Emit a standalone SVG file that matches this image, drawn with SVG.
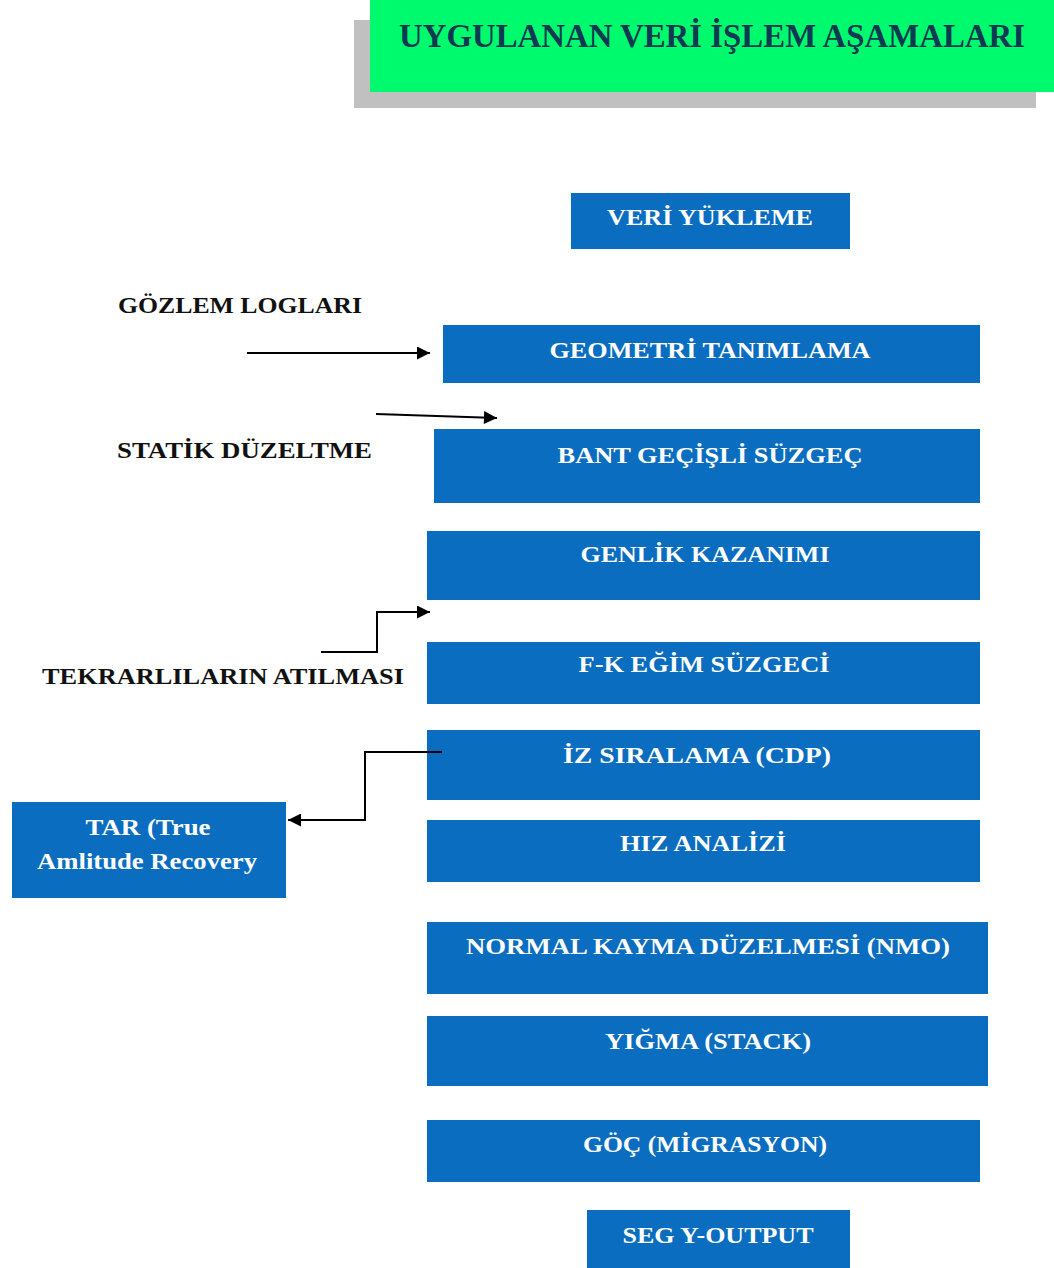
<svg xmlns="http://www.w3.org/2000/svg" width="1054" height="1268" viewBox="0 0 1054 1268">
<defs>
<style>
.box{fill:#0a6dbf;}
.bt{font-family:"Liberation Serif","Times New Roman",serif;font-weight:bold;font-size:23px;fill:#ffffff;text-anchor:middle;}
.lab{font-family:"Liberation Serif","Times New Roman",serif;font-weight:bold;font-size:23px;fill:#111111;}
.title{font-family:"Liberation Serif","Times New Roman",serif;font-weight:bold;font-size:34px;fill:#0d3a52;text-anchor:middle;}
.con{fill:none;stroke:#000;stroke-width:2;}
</style>
<marker id="ah" viewBox="0 0 10 10" refX="10" refY="5" markerWidth="15" markerHeight="13" markerUnits="userSpaceOnUse" orient="auto">
<path d="M0,0 L10,5 L0,10 z" fill="#000"/>
</marker>
</defs>
<rect width="1054" height="1268" fill="#ffffff"/>
<g id="title">
<rect x="354" y="20" width="682" height="88" fill="#c0c0c0"/>
<rect x="370" y="0" width="684" height="92" fill="#00fa6e"/>
<text class="title" x="712" y="47" textLength="626" lengthAdjust="spacingAndGlyphs">UYGULANAN VERİ İŞLEM AŞAMALARI</text>
</g>
<g id="n1"><rect class="box" x="571" y="193" width="279" height="56"/><text class="bt" x="710" y="225" textLength="206" lengthAdjust="spacingAndGlyphs">VERİ YÜKLEME</text></g>
<g id="n2"><rect class="box" x="443" y="325" width="537" height="58"/><text class="bt" x="710" y="358" textLength="321" lengthAdjust="spacingAndGlyphs">GEOMETRİ TANIMLAMA</text></g>
<g id="n3"><rect class="box" x="434" y="429" width="546" height="74"/><text class="bt" x="710" y="463" textLength="305" lengthAdjust="spacingAndGlyphs">BANT GEÇİŞLİ SÜZGEÇ</text></g>
<g id="n4"><rect class="box" x="427" y="531" width="553" height="69"/><text class="bt" x="705" y="562" textLength="249" lengthAdjust="spacingAndGlyphs">GENLİK KAZANIMI</text></g>
<g id="n5"><rect class="box" x="427" y="642" width="553" height="62"/><text class="bt" x="704" y="672" textLength="251" lengthAdjust="spacingAndGlyphs">F-K EĞİM SÜZGECİ</text></g>
<g id="n6"><rect class="box" x="427" y="730" width="553" height="70"/><text class="bt" x="697" y="763" textLength="268" lengthAdjust="spacingAndGlyphs">İZ SIRALAMA  (CDP)</text></g>
<g id="n7"><rect class="box" x="427" y="820" width="553" height="62"/><text class="bt" x="703" y="851" textLength="166" lengthAdjust="spacingAndGlyphs">HIZ ANALİZİ</text></g>
<g id="n8"><rect class="box" x="427" y="922" width="561" height="72"/><text class="bt" x="708" y="954" textLength="484" lengthAdjust="spacingAndGlyphs">NORMAL  KAYMA DÜZELMESİ (NMO)</text></g>
<g id="n9"><rect class="box" x="427" y="1016" width="561" height="70"/><text class="bt" x="708" y="1049" textLength="206" lengthAdjust="spacingAndGlyphs">YIĞMA  (STACK)</text></g>
<g id="n10"><rect class="box" x="427" y="1120" width="553" height="62"/><text class="bt" x="705" y="1152" textLength="244" lengthAdjust="spacingAndGlyphs">GÖÇ (MİGRASYON)</text></g>
<g id="n11"><rect class="box" x="587" y="1210" width="263" height="58"/><text class="bt" x="718" y="1243" textLength="191" lengthAdjust="spacingAndGlyphs">SEG Y-OUTPUT</text></g>
<g id="tar"><rect class="box" x="12" y="802" width="274" height="96"/>
<text class="bt" x="148" y="835" textLength="125" lengthAdjust="spacingAndGlyphs">TAR (True</text>
<text class="bt" x="147" y="869" textLength="220" lengthAdjust="spacingAndGlyphs">Amlitude  Recovery</text></g>
<g id="l1"><text class="lab" x="118" y="313" textLength="244" lengthAdjust="spacingAndGlyphs">GÖZLEM LOGLARI</text></g>
<g id="l2"><text class="lab" x="117" y="458" textLength="255" lengthAdjust="spacingAndGlyphs">STATİK DÜZELTME</text></g>
<g id="l3"><text class="lab" x="42" y="684" textLength="362" lengthAdjust="spacingAndGlyphs">TEKRARLILARIN  ATILMASI</text></g>
<g id="connectors">
<line class="con" x1="247" y1="353" x2="430" y2="353" marker-end="url(#ah)"/>
<line class="con" x1="376" y1="414" x2="497" y2="418" marker-end="url(#ah)"/>
<polyline class="con" points="321,652 377,652 377,612 430,612" marker-end="url(#ah)"/>
<polyline class="con" points="442,752 365,752 365,820 288,820" marker-end="url(#ah)"/>
</g>
</svg>
